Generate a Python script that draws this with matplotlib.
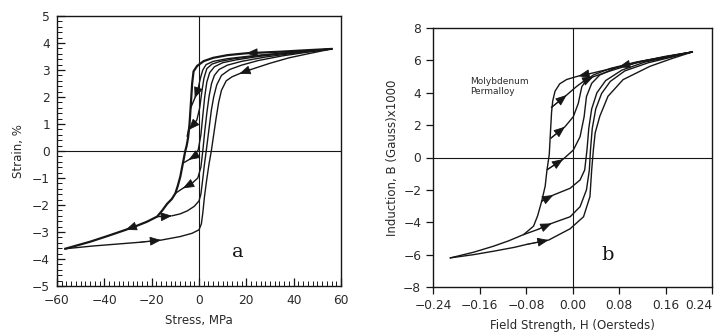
import matplotlib
matplotlib.use("Agg")
import matplotlib.pyplot as plt
from matplotlib.ticker import MultipleLocator

# ---------------- Panel a: stress-strain loops ----------------
a_desc_x = [56, 45, 35, 25, 20, 12, 6, 2, -0.8, -2.3, -2.9, -3.4, -4.0, -4.6, -5.2, -5.8, -6.8,
            -7.9, -9.0, -10.0, -11.5, -13.5, -15.5, -17.7, -22, -26, -31, -38, -46, -56.5]
a_desc_y = [3.78, 3.73, 3.68, 3.64, 3.62, 3.55, 3.45, 3.33, 3.15, 2.95, 2.5, 1.8, 1.0, 0.5, 0.2, 0.0,
            -0.45, -0.95, -1.3, -1.57, -1.78, -1.96, -2.2, -2.43, -2.62, -2.76, -2.92, -3.13, -3.36, -3.62]
a_asc_x = [-56.5, -45, -35, -25, -16, -8, -3, 0, 1.0, 1.6, 2.3, 3.2, 4.2, 5.2, 6.2, 7.2, 8.3, 9.5,
           11.5, 14, 17, 22, 30, 38, 46, 56]
a_asc_y = [-3.62, -3.52, -3.45, -3.38, -3.3, -3.17, -3.05, -2.92, -2.7, -2.3, -1.7, -1.1, -0.5, 0.0,
           0.6, 1.2, 1.8, 2.25, 2.6, 2.75, 2.86, 3.02, 3.25, 3.45, 3.6, 3.78]
a_r1_dash_x = [-17.7, -14, -11.4]
a_r1_dash_y = [-2.43, -2.42, -2.4]
a_r1_x = [-11.4, -8, -5, -2, 0, 0.8, 1.5, 2.3, 3.2, 4.2, 5.2, 6.2, 7.5, 9.5, 13, 18, 25, 35, 45, 56]
a_r1_y = [-2.4, -2.33, -2.22, -2.05, -1.85, -1.6, -1.1, -0.5, 0.1, 0.8, 1.5, 2.0, 2.45, 2.8, 3.02,
          3.18, 3.35, 3.52, 3.65, 3.78]
a_r2_x = [-10, -6.8, -3, -0.5, 0.8, 1.6, 2.4, 3.3, 4.3, 5.3, 6.5, 8.5, 12, 18, 28, 40, 56]
a_r2_y = [-1.57, -1.38, -1.2, -1.0, -0.6, 0.0, 0.7, 1.4, 2.05, 2.5, 2.8, 3.02, 3.18, 3.32, 3.48, 3.62, 3.78]
a_r3_x = [-6.8, -4.4, -2, -0.3, 0.8, 1.6, 2.4, 3.3, 4.5, 6.5, 10, 16, 25, 38, 56]
a_r3_y = [-0.45, -0.33, -0.2, 0.05, 0.6, 1.3, 2.0, 2.55, 2.9, 3.12, 3.27, 3.38, 3.5, 3.63, 3.78]
a_r4_x = [-5.0, -4.4, -2.6, -0.9, 0.3, 1.2, 2.1, 3.3, 5.5, 9, 15, 25, 40, 56]
a_r4_y = [0.55, 0.78, 0.95, 1.15, 1.6, 2.2, 2.7, 3.05, 3.22, 3.32, 3.42, 3.53, 3.66, 3.78]
a_r5_x = [-3.5, -1.8, -0.4, 0.6, 1.6, 3.0, 6, 12, 22, 38, 56]
a_r5_y = [1.6, 1.95, 2.3, 2.7, 3.0, 3.2, 3.32, 3.42, 3.52, 3.65, 3.78]

a_xticks = [-60, -40, -20, 0, 20, 40, 60]
a_yticks = [5, 4, 3, 2, 1, 0, -1, -2, -3, -4, -5]

# ---------------- Panel b: B-H loops ----------------
b_desc_x = [0.206, 0.16, 0.12, 0.08, 0.05, 0.03, 0.01, -0.01, -0.022, -0.030, -0.034, -0.036, -0.038,
            -0.040, -0.044, -0.047, -0.053, -0.060, -0.067, -0.084, -0.11, -0.136, -0.17, -0.21]
b_desc_y = [6.52, 6.25, 5.95, 5.6, 5.35, 5.18, 5.03, 4.82, 4.55, 4.1, 3.5, 2.8, 1.52, 0.18, -0.8, -1.77,
            -2.7, -3.6, -4.24, -4.76, -5.15, -5.48, -5.85, -6.2]
b_asc_x = [-0.21, -0.17, -0.136, -0.1, -0.079, -0.041, -0.004, 0.019, 0.030, 0.033, 0.036, 0.039,
           0.047, 0.061, 0.087, 0.133, 0.17, 0.206]
b_asc_y = [-6.2, -6.0, -5.79, -5.55, -5.37, -5.1, -4.4, -3.66, -2.42, -0.77, 0.5, 1.52, 2.55, 3.78,
           4.81, 5.63, 6.1, 6.52]
b_r1_x = [-0.084, -0.06, -0.036, -0.004, 0.013, 0.024, 0.029, 0.031, 0.034, 0.040, 0.050, 0.065,
          0.09, 0.13, 0.17, 0.206]
b_r1_y = [-4.76, -4.45, -4.07, -3.66, -3.04, -2.0, -0.77, 0.5, 1.8, 3.0, 3.95, 4.7, 5.35, 5.85, 6.2, 6.52]
b_r2_x = [-0.053, -0.033, -0.004, 0.013, 0.021, 0.025, 0.028, 0.033, 0.042, 0.057, 0.085, 0.125, 0.17, 0.206]
b_r2_y = [-2.7, -2.32, -1.9, -1.39, -0.77, 0.5, 1.8, 3.0, 4.0, 4.75, 5.4, 5.9, 6.22, 6.52]
b_r3_x = [-0.043, -0.016, 0.0014, 0.013, 0.020, 0.024, 0.033, 0.047, 0.075, 0.12, 0.165, 0.206]
b_r3_y = [-0.74, -0.1, 0.46, 1.28, 2.52, 3.76, 4.58, 5.1, 5.55, 5.95, 6.25, 6.52]
b_r4_x = [-0.037, -0.013, 0.0014, 0.010, 0.016, 0.024, 0.036, 0.065, 0.11, 0.16, 0.206]
b_r4_y = [1.2, 1.9, 2.52, 3.35, 4.37, 4.8, 5.1, 5.5, 5.9, 6.22, 6.52]
b_r5_x = [-0.036, -0.010, 0.0064, 0.018, 0.036, 0.065, 0.11, 0.16, 0.206]
b_r5_y = [3.1, 3.86, 4.37, 4.68, 4.99, 5.35, 5.85, 6.2, 6.52]

b_xticks = [-0.24, -0.16, -0.08, 0.00, 0.08, 0.16, 0.24]
b_xticklabels = ["\u22120.24", "\u22120.16", "\u22120.08", "0.00", "0.08", "0.16", "0.24"]
b_yticks = [8, 6, 4, 2, 0, -2, -4, -6, -8]

# arrow specs: (curve, point index, direction); +1 = coming from previous point, -1 = from next point
a_curves = {"desc": (a_desc_x, a_desc_y), "asc": (a_asc_x, a_asc_y), "r1d": (a_r1_dash_x, a_r1_dash_y),
            "r1": (a_r1_x, a_r1_y), "r2": (a_r2_x, a_r2_y), "r3": (a_r3_x, a_r3_y),
            "r4": (a_r4_x, a_r4_y), "r5": (a_r5_x, a_r5_y)}
a_arrows = [("desc", 4, 1), ("desc", 26, 1), ("asc", 4, 1), ("asc", 20, -1), ("r1d", 2, 1),
            ("r2", 1, -1), ("r3", 1, -1), ("r4", 1, -1), ("r5", 1, -1)]
b_curves = {"desc": (b_desc_x, b_desc_y), "asc": (b_asc_x, b_asc_y), "r1": (b_r1_x, b_r1_y),
            "r2": (b_r2_x, b_r2_y), "r3": (b_r3_x, b_r3_y), "r4": (b_r4_x, b_r4_y), "r5": (b_r5_x, b_r5_y)}
b_arrows = [("desc", 6, 1), ("desc", 3, 1), ("asc", 5, 1), ("r1", 2, 1), ("r2", 1, 1), ("r3", 1, 1),
            ("r4", 1, 1), ("r5", 1, 1), ("r5", 4, 1)]

INK = "#161616"
TXT = "#2a2a2a"

fig = plt.figure(figsize=(7.2, 3.36), dpi=100)
fig.patch.set_facecolor("white")


def draw_arrows(ax, curves, arrows):
    for name, i, d in arrows:
        xs, ys = curves[name]
        j = i - 1 if d > 0 else i + 1
        ax.annotate("", xy=(xs[i], ys[i]), xytext=(xs[j], ys[j]),
                    arrowprops=dict(arrowstyle="-|>,head_length=0.7,head_width=0.28",
                                    color=INK, lw=0.6, shrinkA=0, shrinkB=0,
                                    mutation_scale=10))


def minus(v):
    return f"{v}".replace("-", "\u2212")


# ---- panel a ----
axa = fig.add_axes([57 / 720, 50 / 336, 284 / 720, 270 / 336])
axa.set_xlim(-60, 60)
axa.set_ylim(-5, 5)
axa.axhline(0, color=INK, lw=0.8)
axa.axvline(0, color=INK, lw=0.8)
axa.plot(a_desc_x, a_desc_y, color=INK, lw=1.6, solid_joinstyle="round")
axa.plot(a_asc_x, a_asc_y, color=INK, lw=1.0)
axa.plot(a_r1_dash_x, a_r1_dash_y, color=INK, lw=1.0, ls=(0, (4, 2)))
for key in ["r1", "r2", "r3", "r4", "r5"]:
    xs, ys = a_curves[key]
    axa.plot(xs, ys, color=INK, lw=1.0)
draw_arrows(axa, a_curves, a_arrows)
axa.set_xticks(a_xticks)
axa.set_xticklabels([minus(v) for v in a_xticks])
axa.set_yticks(a_yticks)
axa.set_yticklabels([minus(v) for v in a_yticks])
axa.xaxis.set_minor_locator(MultipleLocator(2))
axa.yaxis.set_minor_locator(MultipleLocator(0.2))
axa.tick_params(which="both", direction="in", colors=INK, labelcolor=TXT, labelsize=8.8,
                top=False, right=False)
axa.tick_params(which="major", length=6, width=0.9)
axa.tick_params(which="minor", length=3.5, width=0.7)
axa.tick_params(axis="x", which="major", pad=6)
axa.tick_params(axis="y", which="major", pad=5)
for s in axa.spines.values():
    s.set_color(INK)
    s.set_linewidth(1.0)
axa.set_xlabel("Stress, MPa", fontsize=8.5, color=TXT, labelpad=5)
axa.set_ylabel("Strain, %", fontsize=8.5, color=TXT, labelpad=5)
axa.text(16.5, -3.75, "a", fontsize=14, family="DejaVu Serif", color=INK, ha="center", va="center")

# ---- panel b ----
axb = fig.add_axes([433 / 720, 49 / 336, 279 / 720, 259 / 336])
axb.set_xlim(-0.24, 0.24)
axb.set_ylim(-8, 8)
axb.axhline(0, color=INK, lw=0.8)
axb.axvline(0, color=INK, lw=0.8)
for key in ["desc", "asc", "r1", "r2", "r3", "r4", "r5"]:
    xs, ys = b_curves[key]
    axb.plot(xs, ys, color=INK, lw=1.0)
draw_arrows(axb, b_curves, b_arrows)
axb.set_xticks(b_xticks)
axb.set_xticklabels(b_xticklabels)
axb.get_xticklabels()[-1].set_horizontalalignment("right")
axb.set_yticks(b_yticks)
axb.set_yticklabels([minus(v) for v in b_yticks])
axb.tick_params(which="major", direction="out", length=5, width=0.9, colors=INK,
                labelcolor=TXT, labelsize=8.8)
for s in axb.spines.values():
    s.set_color(INK)
    s.set_linewidth(1.0)
axb.set_xlabel("Field Strength, H (Oersteds)", fontsize=8.5, color=TXT, labelpad=5)
axb.set_ylabel("Induction, B (Gauss)x1000", fontsize=8.5, color=TXT, labelpad=3)
axb.text(-0.176, 4.95, "Molybdenum\nPermalloy", fontsize=6.5, color=TXT, ha="left", va="top",
         linespacing=1.1)
axb.text(0.06, -6.0, "b", fontsize=14, family="DejaVu Serif", color=INK, ha="center", va="center")

fig.savefig("out.png", dpi=100, facecolor="white")
